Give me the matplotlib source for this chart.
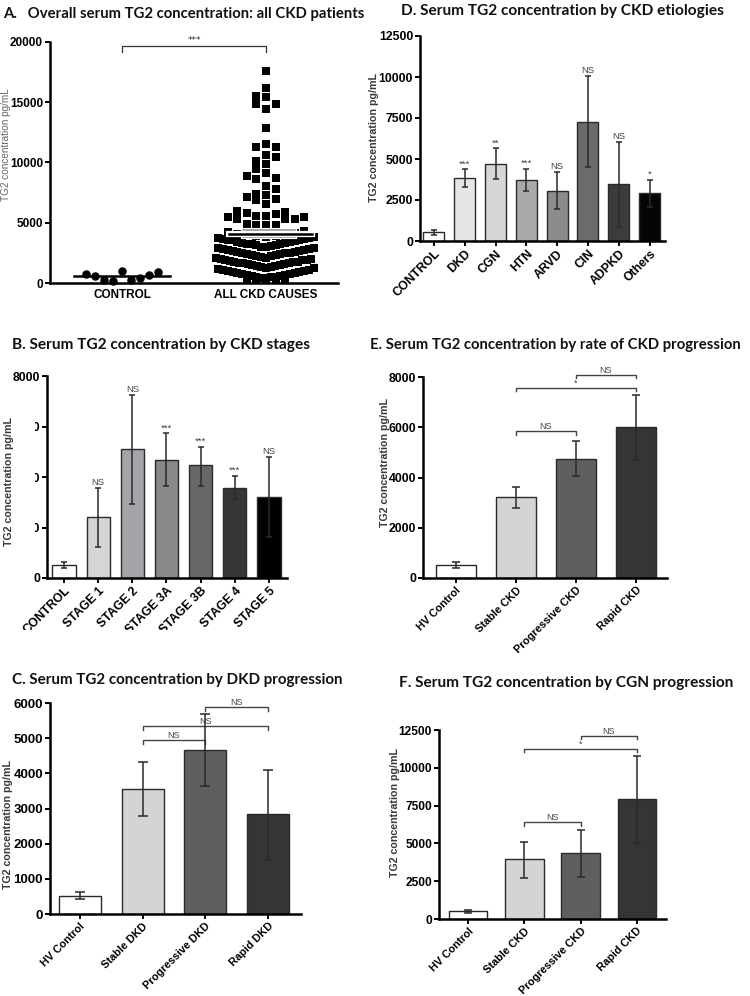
import matplotlib
matplotlib.use("Agg")
import matplotlib.pyplot as plt
import matplotlib.patheffects as pe
import numpy as np
from matplotlib.transforms import Bbox, TransformedBbox

W, H = 750, 996

# ---- A: scatter of all patients ----
control_values = [777, 555, 222, 140, 1000, 222, 416, 638, 915]
control_mean, control_sem = 555, 90
ckd_values = [
    17560, 16170, 15530, 15400, 14840, 14840, 14420, 12840,
    11510, 11320, 11290, 10600, 10460, 10100, 9870, 9500, 9150,
    8870, 8710, 8600, 8050, 7770, 7350, 7300, 7160, 6960, 6880, 6550,
    5970, 5910, 5770, 5690, 5550, 5550, 5490, 5490, 5350, 5350, 5270,
    4880, 4850, 4850, 4850,
    4300, 4200, 4150, 4100, 4000, 3950, 3900, 3870, 3820,
    3780, 3740, 3700, 3660, 3620, 3570, 3550, 3530, 3480, 3440, 3390,
    3350, 3310, 3260, 3250, 3200, 3170, 3120, 3060, 3010, 2970,
    2920, 2880, 2830, 2790, 2730, 2700, 2660, 2650, 2610, 2570, 2520,
    2480, 2450, 2430, 2380, 2340, 2310, 2260, 2200, 2150, 2110,
    2080, 2030, 1990, 1950, 1920, 1870, 1830, 1780, 1760, 1710, 1690,
    1660, 1620, 1580, 1550, 1510, 1490, 1440, 1420, 1350, 1300, 1270,
    1230, 1160, 1120, 1080, 1010, 970, 940, 880, 830, 810, 760, 720,
    700, 650, 610, 580, 530, 520, 470, 440, 420,
    350, 310, 260, 190, 140,
]
ckd_mean, ckd_sem = 4105, 300

# ---- B: CKD stages ----
stage_labels = ["CONTROL", "STAGE 1", "STAGE 2", "STAGE 3A", "STAGE 3B", "STAGE 4", "STAGE 5"]
stage_mean = [502, 2420, 5090, 4690, 4460, 3570, 3210]
stage_lo = [397, 1230, 2950, 3640, 3660, 3110, 1620]
stage_hi = [635, 3580, 7260, 5730, 5200, 4030, 4800]
stage_sig = ["", "NS", "NS", "***", "***", "***", "NS"]
stage_colors = ["white", "#d5d5d5", "#a3a3a8", "#888888", "#676767", "#363636", "#000000"]

# ---- C: DKD progression ----
dkd_labels = ["HV Control", "Stable DKD", "Progressive DKD", "Rapid DKD"]
dkd_mean = [522, 3551, 4672, 2839]
dkd_lo = [418, 2800, 3646, 1548]
dkd_hi = [617, 4310, 5687, 4101]
dkd_brackets = [(1, 2, 4940, "NS"), (1, 3, 5350, "NS"), (2, 3, 5890, "NS")]

# ---- D: etiologies ----
etio_labels = ["CONTROL", "DKD", "CGN", "HTN", "ARVD", "CIN", "ADPKD", "Others"]
etio_mean = [530, 3823, 4695, 3720, 3067, 7275, 3475, 2907]
etio_lo = [385, 3274, 3762, 3030, 1930, 4490, 870, 2100]
etio_hi = [670, 4372, 5652, 4390, 4190, 10080, 6020, 3720]
etio_sig = ["", "***", "**", "***", "NS", "NS", "NS", "*"]
etio_colors = ["white", "#e6e6e6", "#d6d6d6", "#a9a9a9", "#8c8c8c", "#6b6b6b", "#3c3c3c", "#050505"]

# ---- E: rate of CKD progression ----
prog_labels = ["HV Control", "Stable CKD", "Progressive CKD", "Rapid CKD"]
prog_mean = [510, 3210, 4750, 6010]
prog_lo = [410, 2790, 4050, 4690]
prog_hi = [620, 3620, 5440, 7300]
prog_brackets = [(1, 2, 5840, "NS"), (1, 3, 7560, "*"), (2, 3, 8090, "NS")]

# ---- F: CGN progression ----
cgn_labels = ["HV Control", "Stable CKD", "Progressive CKD", "Rapid CKD"]
cgn_mean = [506, 3939, 4357, 7922]
cgn_lo = [396, 2729, 2795, 5018]
cgn_hi = [616, 5106, 5854, 10805]
cgn_brackets = [(1, 2, 6400, "NS"), (1, 3, 11250, "*"), (2, 3, 12130, "NS")]

four_colors = ["white", "#d4d4d4", "#5f5f5f", "#353535"]

TICK_FONT = "Liberation Sans"
TITLE_FONT = "Lato"


def px_axes(fig, left, top, right, bottom):
    return fig.add_axes([left / W, 1 - bottom / H, (right - left) / W, (bottom - top) / H])


def style_axes(ax, tick_fs, xrot=0):
    for side in ("top", "right"):
        ax.spines[side].set_visible(False)
    for side in ("left", "bottom"):
        ax.spines[side].set_linewidth(1.8)
    ax.tick_params(direction="out", length=3.5, width=1.4, labelsize=tick_fs, pad=1.5)
    for lab in ax.get_yticklabels():
        lab.set_fontweight("bold")
        lab.set_family(TICK_FONT)
    for lab in ax.get_xticklabels():
        lab.set_fontweight("bold")
        lab.set_family(TICK_FONT)
        if xrot:
            lab.set_rotation(xrot)
            lab.set_ha("right")
            lab.set_rotation_mode("anchor")


def set_ylabel(ax, px_x, px_y, box, fs=7.7, color="#3a3a3a", weight="bold"):
    # px_x is the centre of the rotated label; matplotlib anchors at its right edge
    left, top, right, bottom = box
    ax.set_ylabel("TG2 concentration pg/mL", fontsize=fs, color=color,
                  fontweight=weight, family=TICK_FONT)
    edge = px_x + fs * 100 / 72 * 0.5
    ax.yaxis.set_label_coords((edge - left) / (right - left), (bottom - px_y) / (bottom - top))


def bar_panel(ax, means, lo, hi, colors, width=0.68, capsize=2.5):
    x = np.arange(len(means))
    means = np.asarray(means, float)
    yerr = [means - np.asarray(lo), np.asarray(hi) - means]
    ax.bar(x, means, width, color=colors, edgecolor="#2a2a2a", linewidth=1.0, zorder=2)
    ax.errorbar(x, means, yerr=yerr, fmt="none", ecolor="#2a2a2a", elinewidth=1.1,
                capsize=capsize, capthick=1.1, zorder=3)
    return x


def sig_labels(ax, x, hi, labels, pad):
    for xi, h, s in zip(x, hi, labels):
        if s:
            ax.text(xi, h + pad, s, ha="center", va="bottom", fontsize=6.8, color="#444",
                    family=TICK_FONT)


def brackets(ax, items, leg):
    for i, j, y, s in items:
        ax.plot([i, i, j, j], [y - leg, y, y, y - leg], color="#444", lw=1.0, clip_on=False)
        ax.text((i + j) / 2, y, s, ha="center", va="bottom", fontsize=6.5, color="#444",
                family=TICK_FONT, clip_on=False)


def swarm_offsets(values, bin_size, origin, step, max_half):
    values = np.asarray(values, float)
    offsets = np.zeros(len(values))
    bins = np.floor((values - origin) / bin_size).astype(int)
    for b in np.unique(bins):
        idx = np.where(bins == b)[0]
        idx = idx[np.argsort(values[idx])]
        n = len(idx)
        s = step if n < 2 else min(step, 2 * max_half / (n - 1))
        for k, i in enumerate(idx):
            m = (k + 1) // 2
            offsets[i] = (-m if k % 2 else m) * s
    return offsets


def title(fig, px_x, px_y, text, fs=11.1):
    fig.text(px_x / W, 1 - px_y / H, text, fontsize=fs, fontweight="bold",
             family=TITLE_FONT, va="center", ha="left", color="#111")


fig = plt.figure(figsize=(W / 100, H / 100), dpi=100)

# ---------- A ----------
boxA = (50, 42, 338, 283)
ax = px_axes(fig, *boxA)
ax.set_xlim(-0.5, 1.5)
ax.set_ylim(0, 20000)
ax.set_yticks([0, 5000, 10000, 15000, 20000])
ax.set_xticks([0, 1], ["CONTROL", "ALL CKD CAUSES"])
cx = np.linspace(-0.25, 0.25, len(control_values))
ax.scatter(cx, control_values, s=26, marker="o", color="black", zorder=3, clip_on=False)
ax.plot([-0.33, 0.33], [control_mean, control_mean], color="black", lw=1.8, zorder=4)
kx = 1 + swarm_offsets(ckd_values, 850, 400, 0.066, 0.33)
ax.scatter(kx, ckd_values, s=26, marker="s", color="black", zorder=3, linewidths=0)
ax.plot([0.74, 1.32], [ckd_mean, ckd_mean], color="black", lw=1.8, zorder=5,
        path_effects=[pe.withStroke(linewidth=4.5, foreground="white")])
for v in (ckd_mean - ckd_sem, ckd_mean + ckd_sem):
    ax.plot([0.84, 1.2], [v, v], color="#888", lw=1.1, zorder=4,
            path_effects=[pe.withStroke(linewidth=3, foreground="white")])
ax.plot([0, 0, 1, 1], [19200, 19700, 19700, 19200], color="#333", lw=0.9, clip_on=False)
ax.text(0.5, 19750, "***", ha="center", va="bottom", fontsize=6.5, color="#333")
style_axes(ax, 8.5)
ax.tick_params(axis="x", length=0, pad=4)
set_ylabel(ax, 6, 145, boxA, fs=7.2, color="#666", weight="normal")
title(fig, 3, 14, "A.   Overall serum TG2 concentration: all CKD patients", fs=10.7)

# ---------- D ----------
boxD = (420, 36, 665, 241)
ax = px_axes(fig, *boxD)
x = bar_panel(ax, etio_mean, etio_lo, etio_hi, etio_colors, width=0.68, capsize=2.2)
sig_labels(ax, x, etio_hi, etio_sig, 60)
ax.set_xlim(-0.45, 7.5)
ax.set_ylim(0, 12500)
ax.set_yticks([0, 2500, 5000, 7500, 10000, 12500])
ax.set_xticks(x, etio_labels)
style_axes(ax, 8.8, xrot=45)
set_ylabel(ax, 374, 137, boxD)
title(fig, 401, 11, "D. Serum TG2 concentration by CKD etiologies")

# ---------- B ----------
boxB = (47, 376, 287, 578)
ax = px_axes(fig, *boxB)
x = bar_panel(ax, stage_mean, stage_lo, stage_hi, stage_colors, width=0.68, capsize=2.3)
sig_labels(ax, x, stage_hi, stage_sig, 40)
ax.set_xlim(-0.5, 6.53)
ax.set_ylim(0, 8000)
ax.set_yticks([0, 2000, 4000, 6000, 8000])
ax.set_xticks(x, stage_labels)
style_axes(ax, 8.8, xrot=45)
set_ylabel(ax, 9, 481, boxB)
# the source panel was cropped: middle tick labels lose their left part
ybox = TransformedBbox(Bbox.from_extents(35 / W, 0, 1, 1), fig.transFigure)
for lab in ax.get_yticklabels()[1:4]:
    lab.set_clip_box(ybox)
    lab.set_clip_on(True)
xbox = TransformedBbox(Bbox.from_extents(0, 1 - 630 / H, 1, 1), fig.transFigure)
for lab in ax.get_xticklabels():
    lab.set_clip_box(xbox)
    lab.set_clip_on(True)
title(fig, 12, 345, "B. Serum TG2 concentration by CKD stages")

# ---------- E ----------
boxE = (423, 377, 667, 578)
ax = px_axes(fig, *boxE)
x = bar_panel(ax, prog_mean, prog_lo, prog_hi, four_colors, width=0.67, capsize=3.2)
brackets(ax, prog_brackets, 130)
ax.set_xlim(-0.55, 3.52)
ax.set_ylim(0, 8000)
ax.set_yticks([0, 2000, 4000, 6000, 8000])
ax.set_xticks(x, prog_labels)
style_axes(ax, 8.8, xrot=45)
for lab in ax.get_xticklabels():
    lab.set_fontsize(7.8)
set_ylabel(ax, 385, 462, boxE)
title(fig, 370, 345, "E. Serum TG2 concentration by rate of CKD progression", fs=10.7)

# ---------- C ----------
boxC = (50, 703, 301, 914)
ax = px_axes(fig, *boxC)
x = bar_panel(ax, dkd_mean, dkd_lo, dkd_hi, four_colors, width=0.67, capsize=3.4)
brackets(ax, dkd_brackets, 110)
ax.set_xlim(-0.48, 3.53)
ax.set_ylim(0, 6000)
ax.set_yticks([0, 1000, 2000, 3000, 4000, 5000, 6000])
ax.set_xticks(x, dkd_labels)
style_axes(ax, 9.5, xrot=45)
for lab in ax.get_xticklabels():
    lab.set_fontsize(7.8)
set_ylabel(ax, 8, 824, boxC)
title(fig, 12, 680, "C. Serum TG2 concentration by DKD progression", fs=10.9)

# ---------- F ----------
boxF = (439, 730, 666, 919)
ax = px_axes(fig, *boxF)
x = bar_panel(ax, cgn_mean, cgn_lo, cgn_hi, four_colors, width=0.68, capsize=3.2)
brackets(ax, cgn_brackets, 220)
ax.set_xlim(-0.52, 3.52)
ax.set_ylim(0, 12500)
ax.set_yticks([0, 2500, 5000, 7500, 10000, 12500])
ax.set_xticks(x, cgn_labels)
style_axes(ax, 8.6, xrot=45)
for lab in ax.get_xticklabels():
    lab.set_fontsize(7.8)
set_ylabel(ax, 395, 812, boxF)
title(fig, 399, 683, "F. Serum TG2 concentration by CGN progression")

fig.savefig("out.png", dpi=100)
